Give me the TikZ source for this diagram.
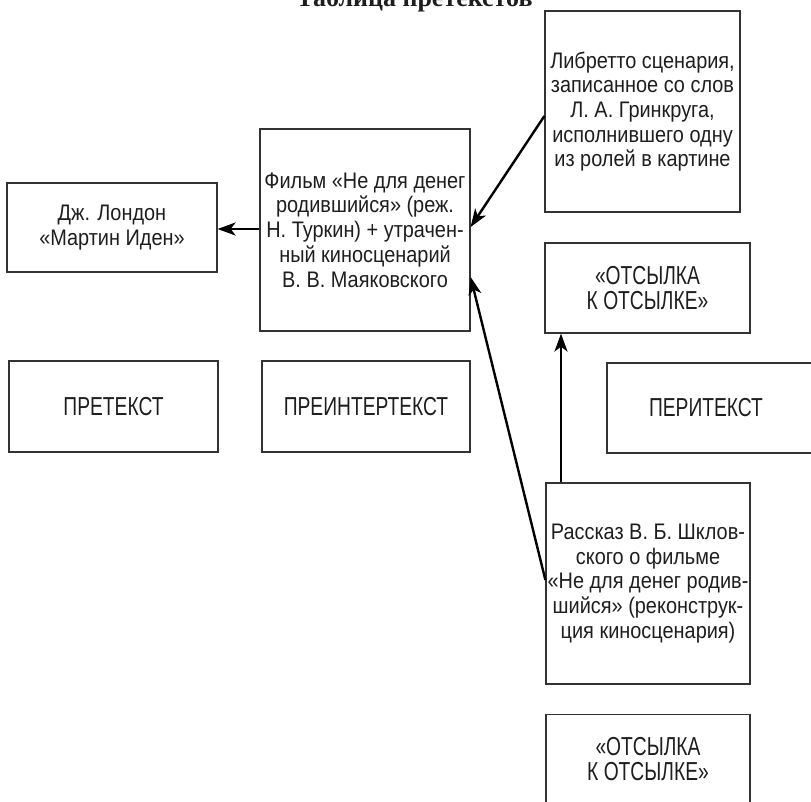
\documentclass[tikz,border=0pt]{standalone}
\usepackage{fontspec}
\setmainfont{Liberation Sans}
\newfontfamily\titlefont{Liberation Serif}
\newfontfamily\boxfont[FakeStretch=0.885]{Liberation Sans}
\newfontfamily\labelfont[FakeStretch=0.74]{Liberation Sans}
\usetikzlibrary{arrows.meta}
\definecolor{boxline}{HTML}{333333}
\definecolor{txt}{HTML}{1E1E1E}
\tikzset{
  box/.style={draw=boxline, line width=1.2pt, text=txt, align=center, inner sep=0pt,
    font=\boxfont\fontsize{22.5}{24.7}\selectfont},
  labelbox/.style={box, font=\labelfont\fontsize{26}{25}\selectfont},
  arr/.style={draw=black, line width=2.4pt, -{Stealth[length=18pt,width=13pt,inset=5pt]}},
}
\begin{document}
\begin{tikzpicture}[x=1pt,y=-1pt]
\clip (0,0) rectangle (811,802);
\useasboundingbox (0,0) rectangle (811,802);
\node[anchor=base, font=\titlefont\bfseries\fontsize{26}{30}\selectfont, text=txt] (title) at (414.5,7) {Таблица претекстов};
\node[box, minimum width=210pt, minimum height=89pt] (lon) at (112,227.5) {Дж. Лондон\\«Мартин Иден»};
\node[box, minimum width=210pt, minimum height=202pt] (film) at (365,230) {Фильм «Не для денег\\родившийся» (реж.\\Н. Туркин) + утрачен-\\ный киносценарий\\В. В. Маяковского};
\node[box, minimum width=195pt, minimum height=201pt] (lib) at (642.5,111.5) {Либретто сценария,\\записанное со слов\\Л. А. Гринкруга,\\исполнившего одну\\из ролей в картине};
\node[labelbox, minimum width=205pt, minimum height=90pt] (ots1) at (647.5,288) {\raisebox{-4pt}{\parbox{200pt}{\centering «ОТСЫЛКА\\К ОТСЫЛКЕ»}}};
\node[labelbox, minimum width=215pt, minimum height=90pt] (peri) at (714.5,408) {\hspace*{-17pt}ПЕРИТЕКСТ};
\node[box, minimum width=204pt, minimum height=201pt] (ras) at (648,583.5) {Рассказ В. Б. Шклов-\\ского о фильме\\«Не для денег родив-\\шийся» (реконструк-\\ция киносценария)};
\node[labelbox, minimum width=204pt, minimum height=90pt] (ots2) at (648,759.5) {«ОТСЫЛКА\\К ОТСЫЛКЕ»};
\node[labelbox, minimum width=209pt, minimum height=91pt] (pre) at (113.5,406.5) {ПРЕТЕКСТ};
\node[labelbox, minimum width=208pt, minimum height=91pt] (preint) at (366,406.5) {ПРЕИНТЕРТЕКСТ};
\draw[arr] ([yshift=1pt]film.west) -- ([yshift=1pt]film.west -| lon.east);
\draw[arr] ([yshift=-4.5pt]lib.west) -- ([yshift=3pt]film.east);
\draw[arr] ([yshift=3.5pt]ras.west) -- ([yshift=-47pt]film.east);
\coordinate (vstart) at ([xshift=-87pt]ras.north);
\draw[arr] (vstart) -- (vstart |- ots1.south);
\end{tikzpicture}
\end{document}
